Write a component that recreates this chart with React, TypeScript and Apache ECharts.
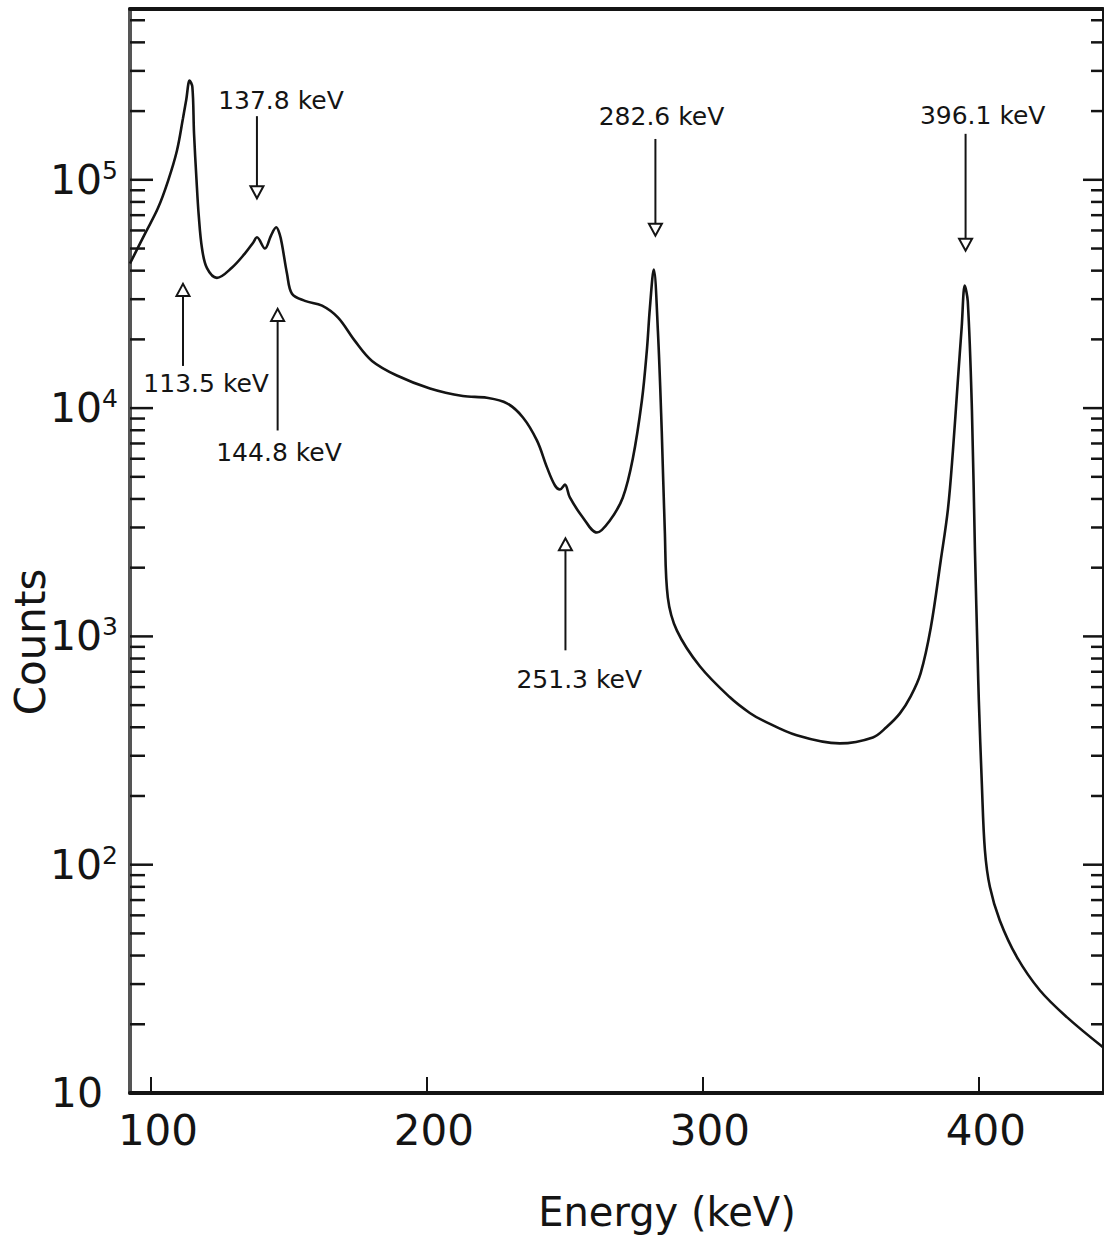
import React, { useEffect, useRef } from 'react';
import * as echarts from 'echarts';

// ---- spectrum ----
const ENERGY = [
  92.4, 97.8, 102.5, 106.2, 109.4, 111.6, 112.8, 114.0, 115.0, 115.6, 116.5, 117.3, 118.5, 120.3,
  123.9, 129.3, 134.0, 137.0, 138.4, 141.3, 143.5, 145.4, 146.6, 147.5, 149.3, 151.1, 155.8, 162.0,
  167.8, 173.9, 180.1, 189.1, 201.1, 213.0, 221.7, 229.0, 234.8, 239.9, 243.5, 246.4, 248.2, 250.0,
  251.8, 256.5, 261.6, 266.3, 271.0, 274.6, 277.9, 279.7, 280.8, 282.2, 283.7, 285.1, 286.2, 287.3,
  290.6, 298.9, 309.8, 317.0, 321.7, 334.0, 349.6, 361.6, 366.5, 371.4, 375.3, 378.9, 382.6, 386.2,
  388.8, 390.6, 392.4, 393.8, 394.9, 396.0, 397.5, 398.6, 399.6, 400.0, 401.1, 402.2, 404.0,
  407.6, 413.8, 422.1, 431.9, 444.9,
];
const COUNTS = [
  43000, 58000, 75000, 99000, 134000, 186000, 225000, 272000, 255000, 160000, 100000, 70000, 50000, 41000,
  37200, 41200, 47500, 53000, 56000, 50000, 57000, 62000, 58000, 52000, 38800, 31700, 29500, 28100,
  24900, 19700, 16100, 13900, 12200, 11300, 11100, 10500, 9100, 7200, 5500, 4580, 4400, 4620,
  4060, 3320, 2850, 3220, 4060, 6000, 10800, 17900, 27500, 40500, 21800, 7900, 2910, 1480,
  1060, 740, 541, 462, 429, 369, 340, 361, 400, 460, 546, 689, 1094, 2150,
  3600, 6460, 13200, 22700, 34400, 29300, 9800, 2360, 793, 525, 225, 116, 80,
  57, 39.4, 28.2, 21.5, 15.9,
];

// ---- axes ----
const X_MIN = 92.4;
const X_MAX = 445;
const X_TICKS = [100, 200, 300, 400];
const Y_MIN = 10;
const Y_MAX = 560000;
const Y_DECADES = [10, 100, 1000, 10000, 100000];
const Y_MINOR_STEPS = [2, 3, 4, 5, 6, 7, 8, 9];

// ---- peak annotations ----
const PEAK_LABELS = ['137.8 keV', '113.5 keV', '144.8 keV', '251.3 keV', '282.6 keV', '396.1 keV'];
const ARROW_ENERGY = [138.4, 111.6, 145.9, 250.2, 282.8, 395.2];
const ARROW_TAIL = [190000, 15300, 7980, 869, 151000, 159000];
const ARROW_TIP = [83000, 35000, 27200, 2690, 56900, 48900];
const LABEL_ENERGY = [147.1, 120.0, 146.4, 255.2, 285.0, 401.4];
const LABEL_COUNTS = [222000, 12800, 6380, 649, 190000, 192000];

const FONT = '"DejaVu Sans", "Liberation Sans", sans-serif';
const INK = '#141414';

export default function App() {
  const ref = useRef<HTMLDivElement>(null);

  useEffect(() => {
    const chart = echarts.init(ref.current!, null, { renderer: 'svg' });

    const lineData = ENERGY.map((e, i) => [e, COUNTS[i]]);

    const tickData: number[][] = [];
    Y_DECADES.forEach((d) => {
      if (d > Y_MIN) tickData.push([X_MIN, d, 1]);
      Y_MINOR_STEPS.forEach((m) => {
        if (d * m < Y_MAX) tickData.push([X_MIN, d * m, 0]);
      });
    });

    const annData = PEAK_LABELS.map((_, i) => [
      ARROW_ENERGY[i], ARROW_TAIL[i], ARROW_TIP[i], LABEL_ENERGY[i], LABEL_COUNTS[i],
    ]);

    const yFormatter = (v: number) => {
      const e = Math.log10(v);
      const r = Math.round(e);
      if (Math.abs(e - r) > 1e-6) return '';
      if (r === 1) return '{b|10}{sp|}';
      return `{b|10}{s|${r}}`;
    };

    chart.setOption({
      animation: false,
      backgroundColor: '#ffffff',
      grid: { left: 130, right: 1, top: 9, bottom: 143, containLabel: false },
      xAxis: [
        {
          type: 'value',
          min: X_MIN,
          max: X_MAX,
          position: 'bottom',
          axisLine: { show: true, lineStyle: { color: INK, width: 4 } },
          axisTick: {
            show: true,
            inside: true,
            length: 16,
            customValues: X_TICKS,
            lineStyle: { color: INK, width: 2 },
          },
          axisLabel: {
            show: true,
            customValues: X_TICKS,
            margin: 16,
            padding: [0, 0, 0, 14],
            fontSize: 42,
            fontFamily: FONT,
            color: INK,
          },
          splitLine: { show: false },
        },
        {
          type: 'value',
          min: X_MIN,
          max: X_MAX,
          position: 'top',
          axisLine: { show: true, lineStyle: { color: INK, width: 4 } },
          axisTick: { show: false },
          axisLabel: { show: false },
          splitLine: { show: false },
        },
      ],
      yAxis: [
        {
          type: 'log',
          logBase: 10,
          min: Y_MIN,
          max: Y_MAX,
          position: 'left',
          axisLine: { show: true, lineStyle: { color: '#555', width: 4 } },
          axisTick: { show: false },
          axisLabel: {
            show: true,
            margin: 12,
            formatter: yFormatter,
            rich: {
              b: { fontSize: 41, fontFamily: FONT, color: INK, lineHeight: 44 },
              s: { fontSize: 25, fontFamily: FONT, color: INK, verticalAlign: 'top', lineHeight: 26 },
              sp: { width: 15 },
            },
          },
          splitLine: { show: false },
        },
        {
          type: 'log',
          logBase: 10,
          min: Y_MIN,
          max: Y_MAX,
          position: 'right',
          axisLine: { show: true, lineStyle: { color: INK, width: 2 } },
          axisTick: { show: false },
          axisLabel: { show: false },
          splitLine: { show: false },
        },
      ],
      graphic: [
        {
          type: 'text',
          x: 30,
          y: 642,
          rotation: Math.PI / 2,
          style: {
            text: 'Counts',
            fontSize: 42,
            fontFamily: FONT,
            fill: INK,
            align: 'center',
            verticalAlign: 'middle',
          },
        },
        {
          type: 'text',
          x: 667,
          y: 1212,
          style: {
            text: 'Energy (keV)',
            fontSize: 40,
            fontFamily: FONT,
            fill: INK,
            align: 'center',
            verticalAlign: 'middle',
          },
        },
      ],
      series: [
        {
          type: 'line',
          data: lineData,
          showSymbol: false,
          smooth: 0.35,
          lineStyle: { color: INK, width: 2.6 },
          silent: true,
        },
        {
          type: 'custom',
          data: tickData,
          clip: false,
          silent: true,
          encode: { x: 0, y: 1 },
          renderItem: (params: any, api: any) => {
            const cs = params.coordSys;
            const y = api.coord([api.value(0), api.value(1)])[1];
            const major = api.value(2) === 1;
            const lenL = major ? 23 : 15;
            const lenR = major ? 20 : 12;
            const xl = cs.x;
            const xr = cs.x + cs.width;
            return {
              type: 'group',
              children: [
                {
                  type: 'line',
                  shape: { x1: xl, y1: y, x2: xl + lenL, y2: y },
                  style: { stroke: INK, lineWidth: 2.5 },
                },
                {
                  type: 'line',
                  shape: { x1: xr - lenR, y1: y, x2: xr, y2: y },
                  style: { stroke: INK, lineWidth: 2.5 },
                },
              ],
            };
          },
        },
        {
          type: 'custom',
          data: annData,
          clip: false,
          silent: true,
          encode: { x: 0, y: 1 },
          renderItem: (params: any, api: any) => {
            const i = params.dataIndex;
            const [x, yTail] = api.coord([api.value(0), api.value(1)]);
            const yTip = api.coord([api.value(0), api.value(2)])[1];
            const [lx, ly] = api.coord([api.value(3), api.value(4)]);
            const dir = yTip > yTail ? 1 : -1;
            const h = 12;
            const w = 6.5;
            const baseY = yTip - dir * h;
            return {
              type: 'group',
              children: [
                {
                  type: 'line',
                  shape: { x1: x, y1: yTail, x2: x, y2: baseY },
                  style: { stroke: INK, lineWidth: 2 },
                },
                {
                  type: 'polygon',
                  shape: { points: [[x - w, baseY], [x + w, baseY], [x, yTip]] },
                  style: { fill: '#ffffff', stroke: INK, lineWidth: 2 },
                },
                {
                  type: 'text',
                  x: lx,
                  y: ly,
                  style: {
                    text: PEAK_LABELS[i],
                    fontSize: 25,
                    fontFamily: FONT,
                    fill: INK,
                    align: 'center',
                    verticalAlign: 'middle',
                  },
                },
              ],
            };
          },
        },
      ],
    });

    return () => chart.dispose();
  }, []);

  return (
    <div
      ref={ref}
      style={{ position: 'absolute', left: 0, top: 0, width: 1104, height: 1236, background: '#fff' }}
    />
  );
}
